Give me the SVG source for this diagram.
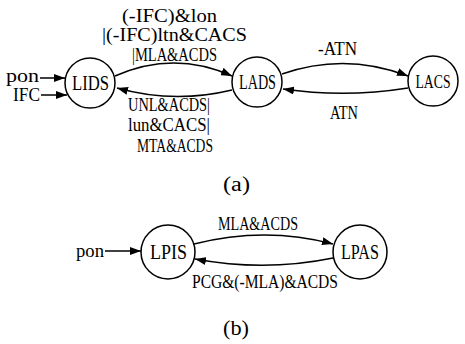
<svg xmlns="http://www.w3.org/2000/svg" width="465" height="344" viewBox="0 0 465 344">
  <defs>
    <marker id="arrow" viewBox="0 0 11 8" refX="11" refY="4" markerWidth="11" markerHeight="8" markerUnits="userSpaceOnUse" orient="auto">
      <path d="M0,0 L11,4 L0,8 Z" fill="#000"/>
    </marker>
  </defs>
  <style>
    .state { fill: #fff; stroke: #000; stroke-width: 1.5; }
    .edge { fill: none; stroke: #000; stroke-width: 1.5; marker-end: url(#arrow); }
    text { font-family: "Liberation Serif", "Times New Roman", serif; fill: #000; }
    .node-label { font-size: 21px; text-anchor: middle; }
    .label { font-size: 18px; }
    .caption { font-size: 20px; }
  </style>
  <rect width="465" height="344" fill="#fff"/>

  <!-- connectors -->
  <g id="connectors">
    <!-- (a) -->
    <path class="edge" d="M40,78 L65,78"/>
    <path class="edge" d="M41,95 L67,95"/>
    <path class="edge" d="M115,76 Q174,50 232,76"/>
    <path class="edge" d="M232,90 Q174,104 117,88"/>
    <path class="edge" d="M282,74 Q345,52 408,76"/>
    <path class="edge" d="M408,88 Q345,98 283,89"/>
    <!-- (b) -->
    <path class="edge" d="M105,251 L141,251"/>
    <path class="edge" d="M194,244 Q265,226 333,244"/>
    <path class="edge" d="M333,258 Q265,272 195,259"/>
  </g>

  <!-- connector labels -->
  <g id="edge-labels">
    <text class="label" x="6" y="82" textLength="33" lengthAdjust="spacingAndGlyphs">pon</text>
    <text class="label" x="13" y="101" textLength="27" lengthAdjust="spacingAndGlyphs">IFC</text>
    <text class="label" x="122" y="22" textLength="95" lengthAdjust="spacingAndGlyphs">(-IFC)&amp;lon</text>
    <text class="label" x="102" y="41" textLength="145" lengthAdjust="spacingAndGlyphs">|(-IFC)ltn&amp;CACS</text>
    <text class="label" x="132" y="61" textLength="85" lengthAdjust="spacingAndGlyphs">|MLA&amp;ACDS</text>
    <text class="label" x="128" y="111" textLength="82" lengthAdjust="spacingAndGlyphs">UNL&amp;ACDS|</text>
    <text class="label" x="128" y="131" textLength="82" lengthAdjust="spacingAndGlyphs">lun&amp;CACS|</text>
    <text class="label" x="137" y="152" textLength="76" lengthAdjust="spacingAndGlyphs">MTA&amp;ACDS</text>
    <text class="label" x="318" y="55" textLength="39" lengthAdjust="spacingAndGlyphs">-ATN</text>
    <text class="label" x="330" y="119" textLength="28" lengthAdjust="spacingAndGlyphs">ATN</text>
    <text class="label" x="76" y="257" textLength="28" lengthAdjust="spacingAndGlyphs">pon</text>
    <text class="label" x="218" y="230" textLength="80" lengthAdjust="spacingAndGlyphs">MLA&amp;ACDS</text>
    <text class="label" x="192" y="288" textLength="146" lengthAdjust="spacingAndGlyphs">PCG&amp;(-MLA)&amp;ACDS</text>
  </g>

  <!-- states of (a) -->
  <g id="LIDS">
    <circle class="state" cx="90" cy="83" r="25"/>
    <text class="node-label" x="90.5" y="90" textLength="37" lengthAdjust="spacingAndGlyphs">LIDS</text>
  </g>
  <g id="LADS">
    <circle class="state" cx="257" cy="82" r="25"/>
    <text class="node-label" x="257.5" y="89" textLength="37" lengthAdjust="spacingAndGlyphs">LADS</text>
  </g>
  <g id="LACS">
    <circle class="state" cx="433" cy="81" r="25"/>
    <text class="node-label" x="433" y="88" style="font-size:19px" textLength="35" lengthAdjust="spacingAndGlyphs">LACS</text>
  </g>

  <!-- states of (b) -->
  <g id="LPIS">
    <circle class="state" cx="168" cy="252" r="27"/>
    <text class="node-label" x="168.5" y="259" textLength="37" lengthAdjust="spacingAndGlyphs">LPIS</text>
  </g>
  <g id="LPAS">
    <circle class="state" cx="360" cy="252" r="27"/>
    <text class="node-label" x="360" y="259" textLength="38" lengthAdjust="spacingAndGlyphs">LPAS</text>
  </g>

  <!-- sub-figure captions -->
  <text class="caption" x="223" y="191" textLength="27" lengthAdjust="spacingAndGlyphs">(a)</text>
  <text class="caption" x="223" y="335" textLength="26" lengthAdjust="spacingAndGlyphs">(b)</text>
</svg>
